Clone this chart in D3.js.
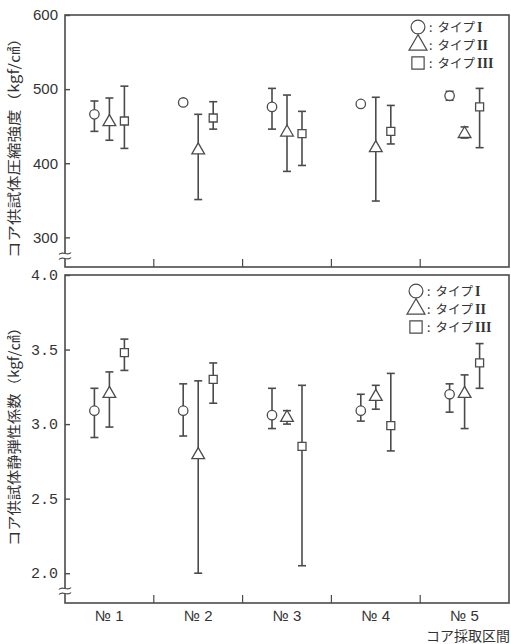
<!DOCTYPE html>
<html><head><meta charset="utf-8">
<script src="https://cdn.jsdelivr.net/npm/d3@7"></script>
<style>html,body{margin:0;padding:0;background:#fff;}svg{display:block;}</style>
</head><body>
<svg id="c" width="511" height="644"></svg>
<script>
const categories = ["№ 1","№ 2","№ 3","№ 4","№ 5"];
const types = ["I","II","III"];
const legendNumerals = ["I","II","III"];
const strengthTicks = [300,400,500,600];
const modulusTicks = [2.0,2.5,3.0,3.5,4.0];

// compressive strength (kgf/cm2): mean, low, high per type
const strengthMeanI   = [466,482,476,480,491];
const strengthLowI    = [443,479,446,477,485];
const strengthHighI   = [484,486,501,483,497];
const strengthMeanII  = [457,419,443,422,441];
const strengthLowII   = [431,351,389,349,434];
const strengthHighII  = [488,466,492,489,449];
const strengthMeanIII = [457,461,440,443,476];
const strengthLowIII  = [420,446,397,426,421];
const strengthHighIII = [504,483,470,478,501];

// static elastic modulus
const modulusMeanI   = [3.09,3.09,3.06,3.09,3.20];
const modulusLowI    = [2.91,2.92,2.97,3.02,3.08];
const modulusHighI   = [3.24,3.27,3.24,3.20,3.27];
const modulusMeanII  = [3.21,2.80,3.05,3.19,3.21];
const modulusLowII   = [2.98,2.00,3.00,3.10,2.97];
const modulusHighII  = [3.35,3.29,3.09,3.26,3.33];
const modulusMeanIII = [3.48,3.30,2.85,2.99,3.41];
const modulusLowIII  = [3.36,3.14,2.05,2.82,3.24];
const modulusHighIII = [3.57,3.41,3.26,3.34,3.54];

const INK = "#4b4b4b";
const svg = d3.select("#c");
const L = 65, R = 509;
const x = d3.scaleBand().domain(categories).range([L, R]).padding(0);
const sub = d3.scalePoint().domain(types).range([-15, 15]);

function build(series) {
  const rows = [];
  series.forEach((s, ti) => {
    categories.forEach((c, i) => rows.push({cat: c, type: types[ti], mean: s[0][i], lo: s[1][i], hi: s[2][i]}));
  });
  return rows;
}

function panel(cfg) {
  const g = svg.append("g");
  const y = d3.scaleLinear().domain(cfg.domain).range([cfg.bottom, cfg.top]);
  g.append("rect").attr("x", L).attr("y", cfg.top).attr("width", R - L).attr("height", cfg.bottom - cfg.top)
    .attr("fill", "none").attr("stroke", INK).attr("stroke-width", 1.6);
  const ya = g.append("g").attr("transform", `translate(${L},0)`)
    .call(d3.axisLeft(y).tickValues(cfg.ticks).tickSizeInner(-5).tickSizeOuter(0).tickPadding(7).tickFormat(cfg.fmt));
  ya.select(".domain").remove();
  ya.selectAll("line").attr("stroke", INK).attr("stroke-width", 1.4);
  ya.selectAll("text").attr("fill", "#333").style("font-family", cfg.tickFont).style("font-size", cfg.tickSize + "px");
  const bounds = categories.slice(1).map(c => x(c));
  g.selectAll(".xt").data(bounds).join("line")
    .attr("x1", d => d).attr("x2", d => d).attr("y1", cfg.bottom).attr("y2", cfg.bottom - 8)
    .attr("stroke", INK).attr("stroke-width", 1.2);
  const by = cfg.breakY;
  g.append("rect").attr("x", L - 3).attr("y", by - 3).attr("width", 6).attr("height", 6).attr("fill", "#fff");
  [-2.5, 2.5].forEach(o => {
    g.append("path").attr("d", `M${L-6},${by+o+1} C${L-3},${by+o-3} ${L+3},${by+o+3} ${L+6},${by+o-1}`)
      .attr("fill", "none").attr("stroke", INK).attr("stroke-width", 1.2);
  });
  const rows = build(cfg.series);
  const cx = d => x(d.cat) + x.bandwidth() / 2 + sub(d.type);
  const eg = g.append("g");
  eg.selectAll(".eb").data(rows).join("line")
    .attr("x1", cx).attr("x2", cx).attr("y1", d => y(d.lo)).attr("y2", d => y(d.hi))
    .attr("stroke", INK).attr("stroke-width", 1.6);
  ["lo", "hi"].forEach(k => {
    eg.selectAll(".cap" + k).data(rows).join("line")
      .attr("x1", d => cx(d) - 4).attr("x2", d => cx(d) + 4).attr("y1", d => y(d[k])).attr("y2", d => y(d[k]))
      .attr("stroke", INK).attr("stroke-width", 1.6);
  });
  const sym = {I: d3.symbolCircle, II: d3.symbolTriangle, III: d3.symbolSquare};
  const sz = {I: 70, II: 70, III: 64};
  eg.selectAll(".mk").data(rows).join("path")
    .attr("transform", d => `translate(${cx(d)},${y(d.mean) + (d.type === "II" ? 1 : 0)})`)
    .attr("d", d => d3.symbol().type(sym[d.type]).size(sz[d.type])())
    .attr("fill", "#fff").attr("stroke", INK).attr("stroke-width", 1.3);
  // legend
  const lg = g.append("g");
  types.forEach((t, i) => {
    const ly = cfg.legendY + i * 18;
    lg.append("path").attr("transform", `translate(${cfg.legendX},${ly})`)
      .attr("d", d3.symbol().type(sym[t]).size(t === "II" ? 140 : 150)())
      .attr("fill", "none").attr("stroke", INK).attr("stroke-width", 1.2);
    const tx = lg.append("text").attr("x", cfg.legendX + 11).attr("y", ly + 5).attr("fill", "#333")
      .style("font-family", "'Noto Sans CJK JP'").style("font-size", "12.5px");
    tx.append("tspan").text(":");
    tx.append("tspan").attr("dx", 5).text("タイプ");
    tx.append("tspan").attr("dx", 2).style("font-family", "'Liberation Serif',serif").style("font-weight", "bold")
      .style("font-size", "14px").text(legendNumerals[i]);
  });
  g.append("text").attr("transform", `translate(${cfg.titleX},${cfg.titleY}) rotate(-90)`)
    .attr("text-anchor", "middle").attr("fill", "#333")
    .attr("textLength", cfg.titleLen).attr("lengthAdjust", "spacingAndGlyphs")
    .style("font-family", "'Noto Sans CJK JP'").style("font-size", "14px")
    .text(cfg.title);
  return g;
}

panel({
  top: 15, bottom: 267, domain: [260, 600], ticks: strengthTicks, fmt: d3.format("d"),
  tickFont: "'Liberation Sans Narrow','Liberation Sans',sans-serif", tickSize: 15,
  breakY: 256,
  series: [[strengthMeanI, strengthLowI, strengthHighI], [strengthMeanII, strengthLowII, strengthHighII], [strengthMeanIII, strengthLowIII, strengthHighIII]],
  legendX: 418, legendY: 27,
  title: "コア供試体圧縮強度（kgf/㎠）", titleX: 19, titleY: 144, titleLen: 228
});
panel({
  top: 275, bottom: 603, domain: [1.8, 4.0], ticks: modulusTicks, fmt: d3.format(".1f"),
  tickFont: "'Liberation Mono','DejaVu Sans Mono',monospace", tickSize: 15,
  breakY: 591,
  series: [[modulusMeanI, modulusLowI, modulusHighI], [modulusMeanII, modulusLowII, modulusHighII], [modulusMeanIII, modulusLowIII, modulusHighIII]],
  legendX: 416, legendY: 291,
  title: "コア供試体静弾性係数（kgf/㎠）", titleX: 19, titleY: 433, titleLen: 226
});

svg.selectAll(".xl").data(categories).join("text")
  .attr("x", d => x(d) + x.bandwidth() / 2).attr("y", 621).attr("text-anchor", "middle")
  .attr("fill", "#333").style("font-family", "'Liberation Sans Narrow','Liberation Sans',sans-serif").style("font-size", "15px")
  .text(d => d);
svg.append("text").attr("x", 510).attr("y", 641).attr("text-anchor", "end").attr("fill", "#333")
  .style("font-family", "'Noto Sans CJK JP'").style("font-size", "14px").text("コア採取区間");
</script>
</body></html>
